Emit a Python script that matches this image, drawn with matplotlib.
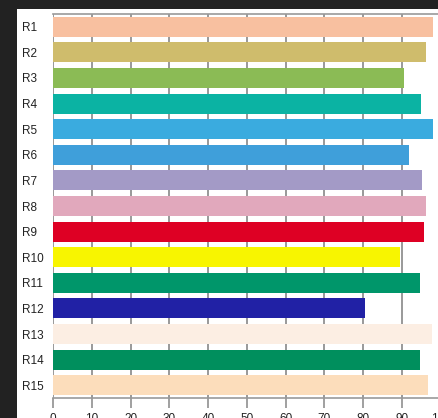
import matplotlib
matplotlib.use("Agg")
import matplotlib.pyplot as plt
from matplotlib.patches import Rectangle

categories = ["R1", "R2", "R3", "R4", "R5", "R6", "R7", "R8",
              "R9", "R10", "R11", "R12", "R13", "R14", "R15"]
values = [98.0, 96.3, 90.6, 94.9, 98.1, 91.7, 95.2, 96.3,
          95.6, 89.6, 94.6, 80.5, 97.7, 94.6, 96.7]
colors = ["#F8C0A0", "#CFBC6C", "#8BBB55", "#0BB3A3", "#3AABDF",
          "#3F9FDA", "#A39AC6", "#E1A8BC", "#DE0024", "#F8F500",
          "#00966A", "#2121A5", "#FCEEE3", "#008F5D", "#FCDDBB"]
xticks = [0, 10, 20, 30, 40, 50, 60, 70, 80, 90, 100]

plt.rcParams['font.family'] = ['Liberation Sans', 'DejaVu Sans']

W, H = 439, 418
fig = plt.figure(figsize=(W / 100, H / 100), dpi=100, facecolor="#222222")
fig.patches.append(Rectangle((17 / W, 0), 1, 1 - 9 / H, transform=fig.transFigure,
                             facecolor="white", edgecolor="none", zorder=-10))

left, right, top, bottom = 53, 440.8, 14, 398
ax = fig.add_axes([left / W, 1 - bottom / H, (right - left) / W, (bottom - top) / H])
ax.set_zorder(5)
ax.set_facecolor("white")

ypos = list(range(len(categories)))
ax.barh(ypos, values, height=0.78, color=colors, zorder=3)
ax.set_ylim(len(categories) - 0.5, -0.5)
ax.set_xlim(0, 100)
ax.set_yticks(ypos)
ax.set_yticklabels(categories, fontsize=8.5, color="#222222", ha="left")
ax.set_xticks(xticks)
ax.set_xticklabels([str(t) for t in xticks], fontsize=8.5, color="#222222")
ax.tick_params(axis="y", length=0, pad=22.5)
ax.tick_params(axis="x", length=7, width=1.3, color="#999999", direction="out", pad=4)
ax.xaxis.grid(True, color="#999999", linewidth=1.4, zorder=1)
ax.set_axisbelow(True)
for side in ["left", "right"]:
    ax.spines[side].set_visible(False)
for side in ["top", "bottom"]:
    ax.spines[side].set_color("#999999")
    ax.spines[side].set_linewidth(1.2)

fig.savefig("out.png", dpi=100, facecolor=fig.get_facecolor())
